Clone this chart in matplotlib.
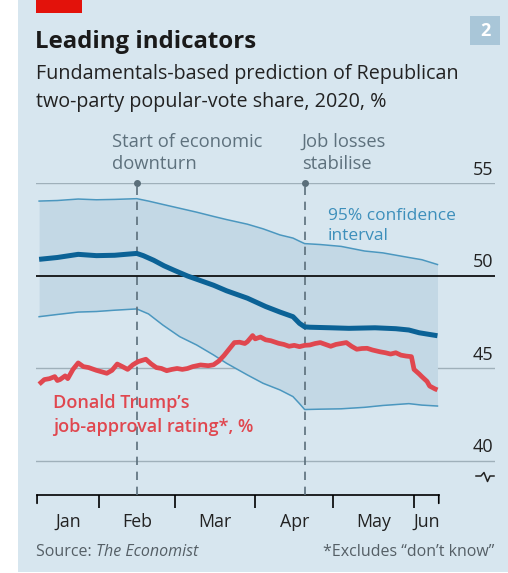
import numpy as np
import matplotlib.pyplot as plt
from matplotlib.patches import Rectangle
from matplotlib.lines import Line2D

plt.rcParams['font.family'] = ['Open Sans', 'DejaVu Sans']

# days since 1 Jan 2020
band_days = [8, 15, 23, 30, 37, 45.5, 50, 55.5, 62, 68.5, 75, 80, 88, 94, 100.5, 105.5, 108, 110, 116, 124, 133, 140, 150, 155, 161]
upper = [54.05, 54.08, 54.16, 54.12, 54.14, 54.18, 54.05, 53.87, 53.66, 53.45, 53.22, 53.05, 52.8, 52.55, 52.22, 52.05, 51.88, 51.75, 51.7, 51.6, 51.35, 51.25, 51.0, 50.88, 50.62]
lower = [47.8, 47.92, 48.05, 48.08, 48.15, 48.22, 47.95, 47.35, 46.72, 46.27, 45.73, 45.28, 44.65, 44.2, 43.84, 43.48, 43.1, 42.78, 42.8, 42.82, 42.9, 43.0, 43.1, 43.02, 42.97]

mid_days = [8, 15, 23, 30, 37, 42, 45.5, 48, 52, 56, 60, 65, 75, 80, 88, 95, 100.5, 105.5, 108, 110, 112, 120, 127, 137, 145, 150, 154, 161]
mid = [50.9, 51.0, 51.17, 51.1, 51.12, 51.18, 51.22, 51.1, 50.85, 50.55, 50.3, 50.0, 49.5, 49.2, 48.8, 48.35, 48.05, 47.8, 47.44, 47.25, 47.23, 47.2, 47.17, 47.2, 47.15, 47.08, 46.93, 46.77]

approval_days = [8, 10, 12, 14, 15, 16, 18, 19, 21, 23, 25, 27, 30, 34, 36, 38, 40, 42, 44, 46, 49, 51, 53, 55, 57, 59, 61, 63, 65, 67, 70, 73, 75, 77,
                 79, 81, 83, 85, 87, 88, 90, 91, 93, 95, 97, 100, 102, 104, 106, 108, 110, 112, 114, 116, 118, 120, 122, 124, 126, 128, 130, 132,
                 134, 136, 139, 141, 143, 145, 147, 149, 151, 152, 154, 155, 157, 158, 160, 161]
approval = [44.15, 44.4, 44.45, 44.56, 44.35, 44.4, 44.6, 44.45, 44.95, 45.3, 45.1, 45.05, 44.9, 44.74, 44.9, 45.24, 45.1, 44.95, 45.2, 45.37,
            45.5, 45.25, 45.05, 45.0, 44.88, 44.95, 45.0, 44.95, 45.0, 45.1, 45.19, 45.15, 45.2, 45.4, 45.7, 46.05, 46.4, 46.42, 46.35, 46.45,
            46.78, 46.6, 46.7, 46.55, 46.5, 46.36, 46.3, 46.2, 46.25, 46.18, 46.25, 46.27, 46.35, 46.4, 46.3, 46.2, 46.3, 46.35, 46.4, 46.2,
            46.04, 46.08, 46.09, 46.0, 45.9, 45.85, 45.78, 45.85, 45.72, 45.67, 45.64, 44.95, 44.7, 44.56, 44.3, 44.05, 43.9, 43.84]

month_edges = [31, 60, 91, 121, 152]
end_ticks = [7.2, 161.5]
month_labels = ['Jan', 'Feb', 'Mar', 'Apr', 'May', 'Jun']
gridlines = [40, 45, 50, 55]
events = [45.5, 110]
event_labels = ['Start of economic\ndownturn', 'Job losses\nstabilise']

W, H = 508, 573
fig = plt.figure(figsize=(W / 100, H / 100), dpi=100)
fig.patch.set_facecolor('white')

def fx(px):
    return px / W

def fy(py):
    return 1 - py / H

bg = '#d7e6ef'
fig.patches.append(Rectangle((fx(18), fy(572)), 1 - fx(18), fy(0) - fy(572), transform=fig.transFigure,
                             facecolor=bg, edgecolor='none', zorder=-2))
fig.patches.append(Rectangle((fx(36), fy(13)), fx(46), fy(0) - fy(13), transform=fig.transFigure,
                             facecolor='#e3120b', edgecolor='none', zorder=-1))
fig.patches.append(Rectangle((fx(470), fy(45)), fx(30), fy(16) - fy(45), transform=fig.transFigure,
                             facecolor='#a9c6d8', edgecolor='none', zorder=-1))
fig.text(fx(485), fy(31), '2', ha='center', va='center', color='white', fontsize=13, fontweight='bold')

fig.text(fx(35), fy(42), 'Leading indicators', ha='left', va='center', fontsize=17.3, fontweight='bold', color='#1a1a1a')
fig.text(fx(36), fy(74), 'Fundamentals-based prediction of Republican', ha='left', va='center', fontsize=14.2, color='#222222')
fig.text(fx(36), fy(102), 'two-party popular-vote share, 2020, %', ha='left', va='center', fontsize=14.2, color='#222222')

ax = fig.add_axes([fx(36), fy(495), fx(495) - fx(36), fy(183.5) - fy(495)])
ax.set_facecolor('none')
ax.set_zorder(2)
ax.set_xlim(6.8, 183.1)
ax.set_ylim(38.16, 55)

for g in gridlines:
    ax.axhline(g, color='black' if g == 50 else '#9fb0ba', lw=1.2 if g == 50 else 1.0, zorder=1 if g != 50 else 4)
    ax.text(0.997, g + 0.25, str(g), transform=ax.get_yaxis_transform(), ha='right', va='bottom',
            fontsize=13, color='#222222')

ax.fill_between(band_days, lower, upper, color='#c3d8e5', lw=0, zorder=2)
ax.plot(band_days, upper, color='#4b97bf', lw=1.1, zorder=3)
ax.plot(band_days, lower, color='#4b97bf', lw=1.1, zorder=3)
ax.plot(mid_days, mid, color='#0b6296', lw=3.6, solid_capstyle='butt', zorder=5)
ax.plot(approval_days, approval, color='#e0474f', lw=3.4, solid_capstyle='butt', zorder=5)

for d, lab, off in zip(events, event_labels, [-25, -3]):
    ax.plot([d, d], [38.16, 55], color='#5b6f7b', lw=1.2, dashes=(5, 4), zorder=3, clip_on=False)
    ax.plot([d], [55], marker='o', ms=4, color='#5b6f7b', zorder=6, clip_on=False)
    ax.annotate(lab, xy=(d, 55), xytext=(off * 0.72, 22), textcoords='offset points', ha='left', va='center',
                fontsize=13.2, color='#5e717d', linespacing=1.3, annotation_clip=False)

ax.text(119, 52.7, '95% confidence\ninterval', ha='left', va='center', fontsize=12.5, color='#3d8fbb', linespacing=1.3)
ax.text(13.5, 42.5, 'Donald Trump\u2019s\njob-approval rating*, %', ha='left', va='center', fontsize=13,
        fontweight='semibold', color='#e0474f', linespacing=1.4, zorder=6)

for s in ['top', 'right', 'left']:
    ax.spines[s].set_visible(False)
ax.spines['bottom'].set_bounds(end_ticks[0], end_ticks[1])
ax.spines['bottom'].set_linewidth(1.2)
ax.set_yticks([])
ax.set_xticks(month_edges)
ax.set_xticklabels([])
ax.tick_params(axis='x', which='major', length=9, width=1.2, direction='out', color='black')
starts = [end_ticks[0]] + month_edges
ends = month_edges + [end_ticks[1]]
centres = [(a + b) / 2 for a, b in zip(starts, ends)]
ax.set_xticks(centres, minor=True)
ax.set_xticklabels(month_labels, minor=True, fontsize=12.8, color='#222222')
ax.tick_params(axis='x', which='minor', length=0, pad=13)
# short end ticks
for d in end_ticks:
    ax.annotate('', xy=(d, 0), xycoords=('data', 'axes fraction'), xytext=(0, -6), textcoords='offset points',
                arrowprops=dict(arrowstyle='-', color='black', lw=1.2, shrinkA=0, shrinkB=0))

# broken axis symbol
fig.add_artist(Line2D([fx(476), fx(481), fx(484), fx(487.5), fx(490), fx(494)],
                      [fy(476), fy(476), fy(472.5), fy(481.5), fy(476), fy(476)],
                      color='#222222', lw=1.1))

fig.text(fx(36), fy(552), 'Source: ', ha='left', va='center', fontsize=11.5, color='#555f66')
fig.text(fx(96), fy(552), 'The Economist', ha='left', va='center', fontsize=11.5, color='#555f66', style='italic')
fig.text(fx(494), fy(552), '*Excludes \u201cdon\u2019t know\u201d', ha='right', va='center', fontsize=11.5, color='#555f66')

fig.savefig('out.png', dpi=100)
